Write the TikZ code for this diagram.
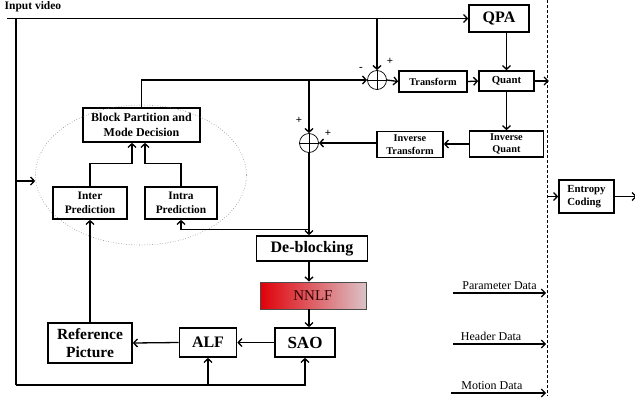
\documentclass[tikz,border=0pt]{standalone}
\usepackage{fontspec}
\setmainfont{Liberation Serif}
\usetikzlibrary{arrows.meta,calc,shapes.geometric}
\definecolor{nnred}{HTML}{E00008}
\definecolor{nnmid}{HTML}{DD5058}
\definecolor{nnpink}{HTML}{DBC2C6}
\begin{document}
\begin{tikzpicture}[x=1pt,y=-1pt,
  line width=1.3pt,
  >={Straight Barb[length=3.8pt,width=8pt]},
  box/.style={draw, line width=1.6pt, align=center, inner sep=0pt},
  fs/.style={font=\bfseries\fontsize{#1}{#1}\selectfont},
  sumc/.style={circle, draw, line width=0.7pt, minimum size=19pt, inner sep=0pt},
  sign/.style={font=\fontsize{11}{11}\selectfont\bfseries, inner sep=0pt},
  datalbl/.style={font=\fontsize{12}{12}\selectfont, above, inner sep=2.5pt}]
\useasboundingbox (0,0) rectangle (635,400);

% nodes
\node[anchor=west, inner sep=0pt, fs=11.5] (inp) at (4,7) {Input video};
\node[box, fs=16, minimum width=60pt, minimum height=27pt] (qpa) at (499,18.5) {QPA};
\node[sumc] (c1) at (377,80) {};
\node[box, fs=10.3, minimum width=68pt, minimum height=21pt] (tr) at (433,81.5) {Transform};
\node[box, fs=10.8, minimum width=55pt, minimum height=20pt] (qu) at (506.5,81) {Quant};
\node[box, minimum width=74pt, minimum height=26pt, font=\bfseries\fontsize{10.3}{12.5}\selectfont] (iq) at (506.5,144) {Inverse\\Quant};
\node[box, minimum width=66pt, minimum height=26pt, font=\bfseries\fontsize{10.3}{12.5}\selectfont] (it) at (410,144.5) {Inverse\\Transform};
\node[sumc] (c2) at (309,143) {};
\node[box, minimum width=117pt, minimum height=34pt, font=\bfseries\fontsize{12}{15}\selectfont] (bp) at (141.5,125) {Block Partition and\\Mode Decision};
\node[draw=gray, dotted, line width=0.6pt, ellipse, minimum width=211pt, minimum height=140pt] (ell) at (141,175) {};
\node[box, minimum width=74pt, minimum height=32pt, font=\bfseries\fontsize{11.4}{14.5}\selectfont] (inter) at (90,203) {Inter\\Prediction};
\node[box, minimum width=72pt, minimum height=32pt, font=\bfseries\fontsize{11.4}{14.5}\selectfont] (intra) at (181,203) {Intra\\Prediction};
\node[box, fs=16, minimum width=111pt, minimum height=25pt] (db) at (312,248.5) {De-blocking};
\node[draw=black!70, line width=0.8pt, left color=nnred, middle color=nnmid, right color=nnpink, minimum width=106pt, minimum height=27pt, inner sep=0pt, font=\fontsize{15}{15}\selectfont, text=black!75!red!80!black] (nn) at (313,295.5) {NNLF};
\node[box, fs=17, minimum width=60pt, minimum height=29pt] (sao) at (305,342.5) {SAO};
\node[box, fs=16, minimum width=57pt, minimum height=29pt] (alf) at (208,342.5) {ALF};
\node[box, minimum width=84pt, minimum height=40pt, font=\bfseries\fontsize{15.5}{17.5}\selectfont] (ref) at (90,343) {Reference\\Picture};
\node[box, minimum width=55pt, minimum height=33pt, font=\bfseries\fontsize{10.8}{13}\selectfont, align=left] (ent) at (586.5,196.5) {Entropy\\Coding};

% signs
\node[sign] (m1) at (361,69) {-};
\node[sign] (p1) at (390,61) {+};
\node[sign] (p2) at (299,120) {+};
\node[sign] (p3) at (328,133) {+};

% circle crosses
\draw[line width=0.6pt] (c1.north) -- (c1.south) (c1.west) -- (c1.east);
\draw[line width=0.6pt] (c2.north) -- (c2.south) (c2.west) -- (c2.east);

% coordinates
\coordinate (in0) at (7,18.5);
\coordinate (in1) at (16,18.5);
\coordinate (bl) at (16,385);
\coordinate (ea) at (16,181);
\coordinate (dtop) at (547,0);
\coordinate (dbot) at (547,396);

% connectors
\draw[->] (in0) -- (qpa.west);
\draw[->] (c1.north |- in0) -- (c1.north);
\draw (in1) -- (bl);
\draw[->] (bl) -| (sao.south);
\draw[->] (alf.south |- bl) -- (alf.south);
\draw[->] (ea) -- (ea -| ell.west);
\draw[->] (bp.north) |- (c1.west);
\draw[->] (c2.north |- c1.west) -- (c2.north);
\draw[->] (c1.east) -- (tr.west);
\draw[->] (tr.east) -- (qu.west);
\draw[->] (qu.east) -- ++(14,0);
\draw[->] (qpa.south -| qu.north) -- (qu.north);
\draw[->] (qu.south) -- (iq.north);
\draw[->] (iq.west) -- (iq.west -| it.east);
\draw[->] (it.west |- c2.east) -- (c2.east);
\draw[->] (c2.south) -- (c2.south |- db.north);
\draw[->] ($(c2.south |- db.north)+(0,-6)$) -| (intra.south);
\draw[->] (db.south -| c2.south) -- (nn.north -| c2.south);
\draw[->] (nn.south -| c2.south) -- (sao.north -| c2.south);
\draw[->] (sao.west) -- (alf.east);
\draw[->] (alf.west) -- (ref.east);
\draw[->] (ref.north) -- (inter.south);
\draw[->] (inter.north) |- ($(bp.south)+(-9.5,21)$) -- ($(bp.south)+(-9.5,0)$);
\draw[->] (intra.north) |- ($(bp.south)+(3.5,21)$) -- ($(bp.south)+(3.5,0)$);

% dashed separator
\draw[line width=0.8pt, dash pattern=on 3pt off 2pt] (dtop) -- (dbot);

% entropy
\draw[->] (ent.west -| dtop) -- (ent.west);
\draw[->] (ent.east) -- ++(22,0);

% data arrows
\coordinate (pa0) at (453,293); \coordinate (pa1) at (546,293);
\coordinate (ha0) at (453,344); \coordinate (ha1) at (546,344);
\coordinate (ma0) at (451,393); \coordinate (ma1) at (546,393);
\draw[->] (pa0) -- (pa1) node[datalbl, midway] (pdl) {Parameter Data};
\draw[->] (ha0) -- (ha1) node[datalbl, pos=0.41] (hdl) {Header Data};
\draw[->] (ma0) -- (ma1) node[datalbl, pos=0.43] (mdl) {Motion Data};
\end{tikzpicture}
\end{document}
